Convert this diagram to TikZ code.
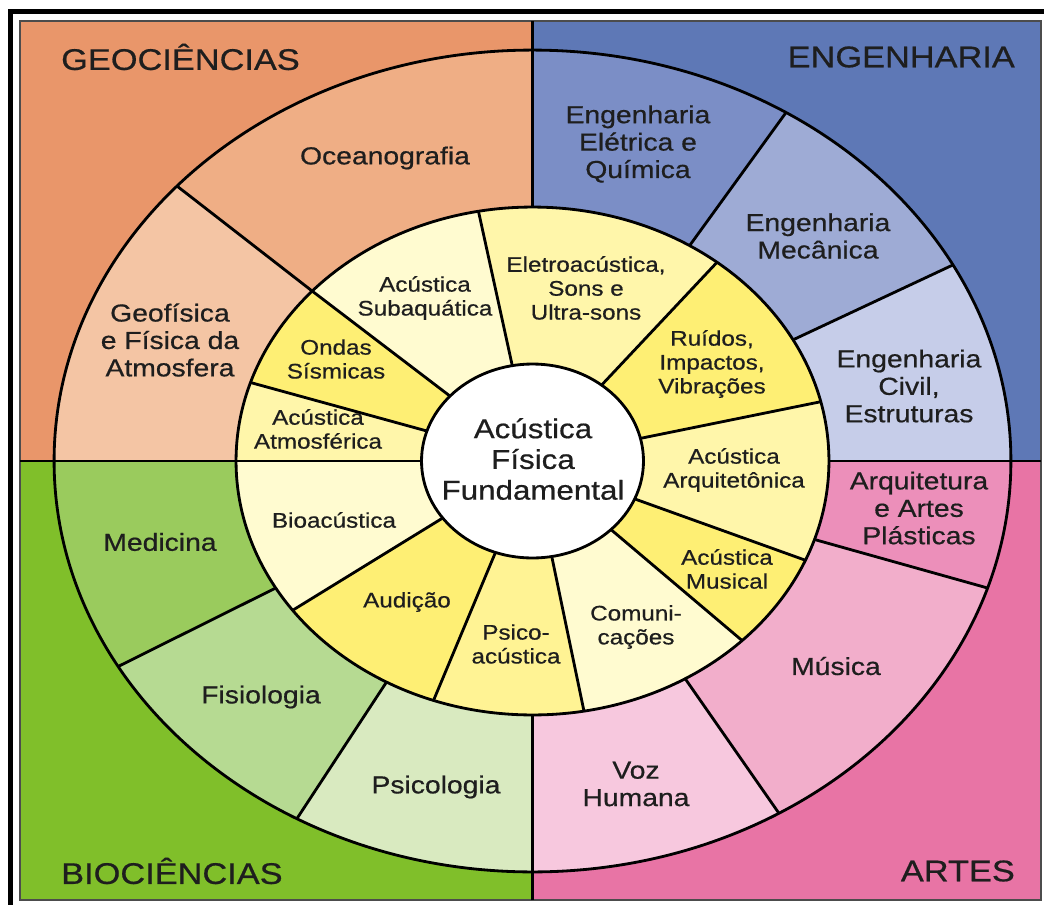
\documentclass[tikz,border=0pt]{standalone}
\usepackage{fontspec}
\setmainfont{Liberation Sans}[FakeStretch=1.15, FakeBold=0.6]
\usepackage{tikz}

% ring radii (outer, inner, hub); the trailing space keeps "and" apart
\newcommand{\outerx}{9.57cm }
\newcommand{\outery}{8.22cm}
\newcommand{\innerx}{5.93cm }
\newcommand{\innery}{5.08cm}
\newcommand{\hubx}{2.22cm }
\newcommand{\huby}{1.94cm}

\definecolor{ink}{HTML}{1E1E1E}
\definecolor{geoback}{HTML}{E9966A}
\definecolor{geoOcean}{HTML}{EFAE85}
\definecolor{geoPhys}{HTML}{F4C5A4}
\definecolor{engback}{HTML}{5E78B6}
\definecolor{engElec}{HTML}{7B8EC6}
\definecolor{engMech}{HTML}{9EABD5}
\definecolor{engCivil}{HTML}{C6CDE9}
\definecolor{artback}{HTML}{E874A5}
\definecolor{artArch}{HTML}{EC8FBA}
\definecolor{artMusic}{HTML}{F2AECB}
\definecolor{artVoice}{HTML}{F7C8DE}
\definecolor{bioback}{HTML}{80BF2A}
\definecolor{bioMed}{HTML}{9ACB5D}
\definecolor{bioPhys}{HTML}{B6DA92}
\definecolor{bioPsy}{HTML}{D9EAC0}
\definecolor{ylight}{HTML}{FFFBD0}
\definecolor{ymid}{HTML}{FFF6AA}
\definecolor{ypsy}{HTML}{FFF394}
\definecolor{ydark}{HTML}{FEEF74}

\tikzset{sep/.style={line width=1.6pt, black},
	title/.style={font=\fontsize{17}{20}\selectfont, text=ink},
	field/.style={align=center, font=\fontsize{14}{15.6}\selectfont, text=ink},
	topic/.style={align=center, font=\fontsize{12}{13.6}\selectfont, text=ink}}

\begin{document}
\begin{tikzpicture}[x=0.02cm, y=0.02cm]
	\useasboundingbox (-532.5,-443) rectangle (511.5,461);
	\clip (-532.5,-443) rectangle (511.5,461);
	\draw[line width=2.8pt] (-522,449.5) rectangle (560,-480);
	% the four quadrants
	\fill[geoback] (-512.5,0) rectangle (0,440);
	\fill[engback] (0,0) rectangle (508.5,440);
	\fill[bioback] (-512.5,-439) rectangle (0,0);
	\fill[artback] (0,-439) rectangle (508.5,0);
	\draw[gray!60!black, line width=1.2pt] (-512.5,-439) rectangle (508.5,440);
	% outer ring
	\foreach \sa/\sb/\sc in {0/28.5/engCivil, 28.5/58/engMech, 58/90/engElec,
		90/138/geoOcean, 138/180/geoPhys, 180/210/bioMed, 210/240.5/bioPhys,
		240.5/270/bioPsy, 270/301/artVoice, 301/342/artMusic, 342/360/artArch}
	\fill[\sc] (\sa:\innerx and \innery) -- (\sa:\outerx and \outery)
		arc[start angle=\sa, end angle=\sb, x radius=\outerx, y radius=\outery]
		-- (\sb:\innerx and \innery)
		arc[start angle=\sb, end angle=\sa, x radius=\innerx, y radius=\innery] -- cycle;
	% inner ring
	\foreach \sa/\sb/\sc in {-23/13.5/ymid, 13.5/51.5/ydark, 51.5/100.5/ymid,
		100.5/138/ylight, 138/162/ydark, 162/180/ymid, 180/216/ylight,
		216/250.5/ydark, 250.5/280/ypsy, 280/315/ylight, 315/337/ydark}
	\fill[\sc] (\sa:\hubx and \huby) -- (\sa:\innerx and \innery)
		arc[start angle=\sa, end angle=\sb, x radius=\innerx, y radius=\innery]
		-- (\sb:\hubx and \huby)
		arc[start angle=\sb, end angle=\sa, x radius=\hubx, y radius=\huby] -- cycle;
	\fill[white] (0,0) ellipse[x radius=\hubx, y radius=\huby];
	% borders
	\coordinate (top) at (0,440);
	\coordinate (bottom) at (0,-439);
	\coordinate (left) at (-512.5,0);
	\coordinate (right) at (508.5,0);
	\draw[sep] (top) -- (90:\innerx and \innery);
	\draw[sep] (bottom) -- (270:\innerx and \innery);
	\draw[sep] (left) -- (180:\hubx and \huby);
	\draw[sep] (right) -- (0:\innerx and \innery);
	\foreach \t in {28.5,58,138,210,240.5,301,342}
	\draw[sep] (\t:\innerx and \innery) -- (\t:\outerx and \outery);
	\foreach \t in {13.5,51.5,100.5,138,162,216,250.5,280,315,337}
	\draw[sep] (\t:\hubx and \huby) -- (\t:\innerx and \innery);
	\draw[sep] (0,0) ellipse[x radius=\outerx, y radius=\outery];
	\draw[sep] (0,0) ellipse[x radius=\innerx, y radius=\innery];
	\draw[sep] (0,0) ellipse[x radius=\hubx, y radius=\huby];
	% quadrant titles
	\node[title, anchor=west] (geo) at (-477.5,404) {GEOCIÊNCIAS};
	\node[title, anchor=east] (eng) at (488.5,404) {ENGENHARIA};
	\node[title, anchor=west] (bio) at (-477.5,-410) {BIOCIÊNCIAS};
	\node[title, anchor=east] (art) at (488.5,-410) {ARTES};
	% fields
	\node[field] (ocean) at (-147.5,303) {Oceanografia};
	\node[field] (geophys) at (-362.5,121) {Geofísica\\e Física da\\Atmosfera};
	\node[field] (elec) at (105.5,317) {Engenharia\\Elétrica e\\Química};
	\node[field] (mech) at (285.5,225) {Engenharia\\Mecânica};
	\node[field] (civil) at (376.5,75) {Engenharia\\Civil,\\Estruturas};
	\node[field] (arch) at (386.5,-47) {Arquitetura\\e Artes\\Plásticas};
	\node[field] (music) at (303.5,-205) {Música};
	\node[field] (voice) at (103.5,-323) {Voz\\Humana};
	\node[field] (psych) at (-96.5,-326) {Psicologia};
	\node[field] (physio) at (-271.5,-236) {Fisiologia};
	\node[field] (med) at (-372.5,-81) {Medicina};
	% topics
	\node[topic] (underwater) at (-107.5,163) {Acústica\\Subaquática};
	\node[topic] (electro) at (53.5,173) {Eletroacústica,\\Sons e\\Ultra-sons};
	\node[topic] (noise) at (179.5,97) {Ruídos,\\Impactos,\\Vibrações};
	\node[topic] (archac) at (201.5,-9) {Acústica\\Arquitetônica};
	\node[topic] (musical) at (194.5,-108) {Acústica\\Musical};
	\node[topic] (comm) at (103.5,-166) {Comuni-\\cações};
	\node[topic] (psycho) at (-16.5,-183) {Psico-\\acústica};
	\node[topic] (hearing) at (-125.5,-141) {Audição};
	\node[topic] (bioac) at (-198.5,-59) {Bioacústica};
	\node[topic] (seismic) at (-196.5,102) {Ondas\\Sísmicas};
	\node[topic] (atmos) at (-214.5,32) {Acústica\\Atmosférica};
	\node[align=center, font=\fontsize{15.5}{17.5}\selectfont, text=ink] (hub) at (0.5,2)
		{Acústica\\Física\\Fundamental};
\end{tikzpicture}
\end{document}
